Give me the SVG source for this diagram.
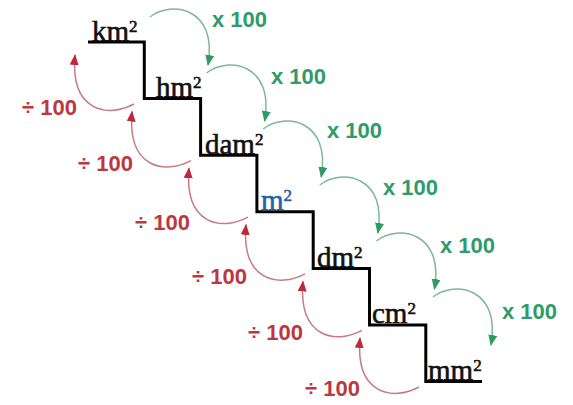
<svg xmlns="http://www.w3.org/2000/svg" width="573" height="405" viewBox="0 0 573 405">
<style>
.unit{font-family:"Liberation Serif","Times New Roman",serif;font-size:29px;fill:#111;stroke:#111;stroke-width:0.6}
.sup{font-size:17px}
.mul{font-family:"Liberation Sans",Arial,sans-serif;font-weight:bold;font-size:22px;fill:#2E9B68}
.div{font-family:"Liberation Sans",Arial,sans-serif;font-weight:bold;font-size:22px;fill:#BC3740}
.garc{fill:none;stroke:#7DB89A;stroke-width:1.5;marker-end:url(#ga)}
.rarc{fill:none;stroke:#C77C80;stroke-width:1.5;marker-end:url(#ra)}
</style>
<defs>
<marker id="ga" markerUnits="userSpaceOnUse" markerWidth="12" markerHeight="10" refX="10" refY="4.5" orient="auto"><path d="M0,0 L11,4.5 L0,9 z" fill="#2E9B62"/></marker>
<marker id="ra" markerUnits="userSpaceOnUse" markerWidth="12" markerHeight="10" refX="10" refY="4.5" orient="auto"><path d="M0,0 L11,4.5 L0,9 z" fill="#C0283A"/></marker>
<path id="gpath" d="M150,17 C172,0 218,8 208,65"/>
<path id="rpath" d="M134,104 C108,118 70,112 75,55"/>
</defs>
<g id="stairs">
<path d="M88,42 H144.3 V98.6 H200.6 V155.2 H256.9 V211.8 H313.2 V268.4 H369.5 V325 H425.8 V381.6 H482" fill="none" stroke="#000" stroke-width="3"/>
</g>
<g id="km2"><text class="unit" x="92" y="40.5">km<tspan class="sup" dy="-9">2</tspan></text></g>
<g id="hm2"><text class="unit" x="156" y="97">hm<tspan class="sup" dy="-9">2</tspan></text></g>
<g id="dam2"><text class="unit" x="205" y="153.5">dam<tspan class="sup" dy="-9">2</tspan></text></g>
<g id="m2"><text class="unit" x="261" y="210" style="fill:#1E64A8;stroke:#1E64A8">m<tspan class="sup" dy="-9">2</tspan></text></g>
<g id="dm2"><text class="unit" x="317" y="266.5">dm<tspan class="sup" dy="-9">2</tspan></text></g>
<g id="cm2"><text class="unit" x="372" y="323">cm<tspan class="sup" dy="-9">2</tspan></text></g>
<g id="mm2"><text class="unit" x="428" y="380">mm<tspan class="sup" dy="-9">2</tspan></text></g>
<g id="connectors">
<use href="#gpath" class="garc"/>
<use href="#gpath" class="garc" transform="translate(56.6,56)"/>
<use href="#gpath" class="garc" transform="translate(113.2,112)"/>
<use href="#gpath" class="garc" transform="translate(169.8,168)"/>
<use href="#gpath" class="garc" transform="translate(226.4,224)"/>
<use href="#gpath" class="garc" transform="translate(283,280)"/>
<use href="#rpath" class="rarc"/>
<use href="#rpath" class="rarc" transform="translate(57,56.6)"/>
<use href="#rpath" class="rarc" transform="translate(114,113.2)"/>
<use href="#rpath" class="rarc" transform="translate(171,169.8)"/>
<use href="#rpath" class="rarc" transform="translate(228,226.4)"/>
<use href="#rpath" class="rarc" transform="translate(285,283)"/>
</g>
<g id="labels">
<text class="mul" x="212" y="27">x 100</text>
<text class="mul" x="271" y="84">x 100</text>
<text class="mul" x="327" y="138">x 100</text>
<text class="mul" x="383" y="195">x 100</text>
<text class="mul" x="440" y="253">x 100</text>
<text class="mul" x="502" y="319">x 100</text>
<text class="div" x="22" y="115">÷ 100</text>
<text class="div" x="78" y="171">÷ 100</text>
<text class="div" x="135" y="230">÷ 100</text>
<text class="div" x="192" y="284">÷ 100</text>
<text class="div" x="248" y="340">÷ 100</text>
<text class="div" x="305" y="396">÷ 100</text>
</g>
</svg>
